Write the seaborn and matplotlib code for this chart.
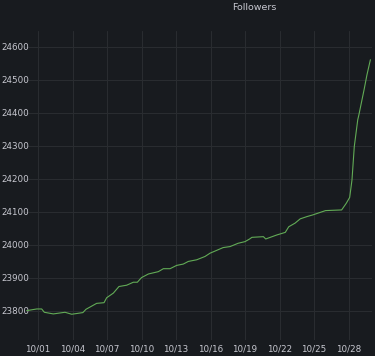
import matplotlib
matplotlib.use("Agg")
import matplotlib.pyplot as plt
import matplotlib.dates as mdates
import seaborn as sns
import pandas as pd
import numpy as np

# days since 2023-09-30 00:00
day_offsets = [0.02, 0.89, 1.32, 1.55, 2.33, 3.35, 3.93, 4.9, 5.17, 6.1, 6.74, 6.97,
               7.55, 8.04, 8.71, 9.29, 9.64, 10.0, 10.6, 11.46, 11.9, 12.48, 13.06,
               13.63, 14.07, 14.8, 15.52, 15.96, 16.5, 17.1, 17.7, 18.4, 19.0, 19.4,
               19.6, 20.6, 20.8, 21.75, 22.5, 22.8, 23.35, 23.8, 24.4, 24.9, 26.0,
               27.4, 27.8, 28.1, 28.3, 28.5, 28.8, 28.9, 29.35, 29.6, 29.9]
followers = [23801, 23806, 23806, 23796, 23791, 23796, 23790, 23795, 23805, 23823,
             23825, 23840, 23854, 23874, 23878, 23887, 23887, 23901, 23912, 23919,
             23928, 23928, 23938, 23942, 23950, 23955, 23965, 23975, 23983, 23992,
             23995, 24005, 24010, 24018, 24023, 24025, 24018, 24030, 24038, 24055,
             24066, 24079, 24086, 24091, 24104, 24106, 24126, 24144, 24197, 24298,
             24379, 24394, 24470, 24515, 24561]
y_ticks = [23800, 23900, 24000, 24100, 24200, 24300, 24400, 24500, 24600]
title = "Followers"

start = pd.Timestamp("2023-09-30")
df = pd.DataFrame({
    "time": start + pd.to_timedelta(day_offsets, unit="D"),
    "followers": followers,
})

bg = "#181b1f"
grid = "#292c30"
txt = "#c7c8d0"

sns.set_style("dark")
fig = plt.figure(figsize=(3.75, 3.56), dpi=100, facecolor=bg)
ax = fig.add_axes([25/375, 1-340/356, (372-25)/375, (340-31)/356])
ax.set_facecolor(bg)

sns.lineplot(data=df, x="time", y="followers", ax=ax, color="#62ab56", linewidth=0.8)

ax.set_ylim(23712, 24648)
ax.set_xlim(start + pd.Timedelta(days=-0.13), start + pd.Timedelta(days=30.04))
ax.set_yticks(y_ticks)
ticks = pd.date_range("2023-10-01", "2023-10-28", freq="3D")
ax.set_xticks(ticks)
ax.xaxis.set_major_formatter(mdates.DateFormatter("%m/%d"))

ax.grid(True, color=grid, linewidth=0.8)
ax.tick_params(axis="both", colors=txt, labelsize=6.3, length=0, pad=3.5)
ax.tick_params(axis="y", pad=-1)
for lbl in ax.get_yticklabels():
    lbl.set_horizontalalignment("left")
    lbl.set_x(-25/347)
for s in ax.spines.values():
    s.set_visible(False)
ax.set_xlabel("")
ax.set_ylabel("")

fig.text(254/375, 1-8/356, title, color=txt, fontsize=6.8, ha="center", va="center")

fig.savefig("out.png", dpi=100, facecolor=bg)
